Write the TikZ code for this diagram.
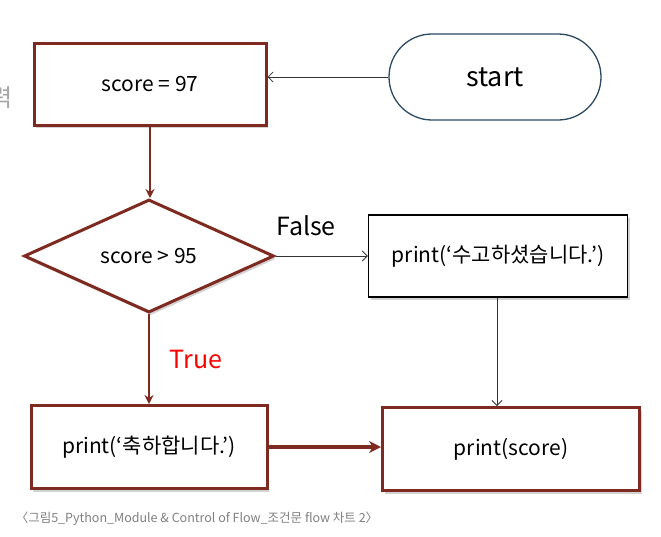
\documentclass[tikz,border=0pt]{standalone}
\usepackage{fontspec}
\setmainfont{Noto Sans CJK KR}
\usetikzlibrary{shapes.geometric,shapes.misc,arrows.meta,shadows}
\definecolor{darkred}{HTML}{7E2A20}
\definecolor{startblue}{HTML}{2E4A62}
\tikzset{
  shad/.style={drop shadow={shadow xshift=2pt,shadow yshift=-3pt,opacity=0.35,fill=gray}},
  redbox/.style={draw=darkred,line width=3pt,fill=white,rectangle,shad,inner sep=0pt,font=\fontsize{21}{24}\selectfont},
  blackbox/.style={draw=black,line width=1.4pt,fill=white,rectangle,shad,inner sep=0pt,font=\fontsize{21}{24}\selectfont},
  redarrow/.style={draw=darkred,line width=2pt,-{Stealth[length=9pt,width=9pt]}},
  thinarrow/.style={draw=black!80,line width=0.8pt,-{Straight Barb[length=5pt,width=10pt]}},
  lbl/.style={font=\fontsize{25}{28}\selectfont,inner sep=0pt}
}
\begin{document}
\begin{tikzpicture}[x=1pt,y=-1pt]
\useasboundingbox[fill=white] (0,0) rectangle (661,536);
% cropped side label
\node[text=gray!70,font=\fontsize{24}{26}\selectfont,inner sep=0pt] (side) at (2,98) {력};
% nodes
\node[redbox,minimum width=232pt,minimum height=82pt] (score) at (150,84) {score = 97};
\node[rounded rectangle,draw=startblue,line width=1.3pt,fill=white,minimum width=212pt,minimum height=86pt,inner sep=0pt,font=\fontsize{27}{30}\selectfont] (start) at (495,77) {start};
\node[diamond,draw=darkred,line width=3pt,fill=white,shad,minimum width=250pt,minimum height=113pt,inner sep=0pt,font=\fontsize{21}{24}\selectfont] (cond) at (149,256) {score > 95};
\node[blackbox,minimum width=259pt,minimum height=82pt] (thanks) at (498,256) {print(‘수고하셨습니다.’)};
\node[redbox,minimum width=236pt,minimum height=83pt] (congr) at (149,447) {print(‘축하합니다.’)};
\node[redbox,minimum width=257pt,minimum height=83pt] (pscore) at (511,449) {print(score)};
% labels
\node[lbl] (false) at (306,226) {False};
\node[lbl,text=red] (true) at (196,359) {True};
\node[text=gray,font=\fontsize{12.5}{14}\selectfont,inner sep=0pt] (caption) at (197,519) {〈그림5\_Python\_Module \& Control of Flow\_조건문 flow 차트 2〉};
% connectors
\draw[thinarrow] (start.west) -- (score.east |- start.west);
\draw[redarrow] (score.south) -- (score.south |- cond.north);
\draw[thinarrow] (cond.east) -- (thanks.west);
\draw[redarrow] (cond.south) -- (congr.north);
\draw[thinarrow] (thanks.south -| 497,0) -- (pscore.north -| 497,0);
\draw[draw=darkred,line width=3.5pt,-{Stealth[length=12pt,width=12pt]}] (congr.east) -- (pscore.west |- congr.east);
\end{tikzpicture}
\end{document}
